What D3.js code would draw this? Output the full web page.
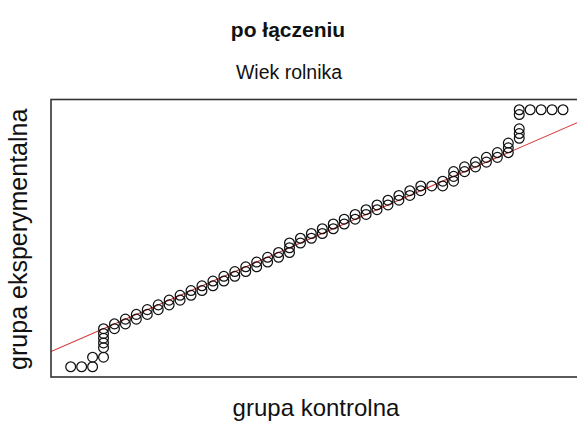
<!DOCTYPE html>
<html>
<head>
<meta charset="utf-8">
<script src="https://cdn.jsdelivr.net/npm/d3@7"></script>
<style>
  html, body { margin: 0; padding: 0; background: #fff; }
  svg { display: block; }
  text { font-family: "Liberation Sans", Arial, sans-serif; fill: #111; }
</style>
</head>
<body>
<svg id="chart" width="577" height="427"></svg>
<script>
// Sorted ages (quantiles) of both groups, paired by rank
const controlAges = [
  25, 26, 27, 27, 28, 28, 28, 28, 28, 28,
  29, 29, 30, 30, 31, 31, 32, 32, 33, 33, 34, 34, 35, 35, 36, 36,
  37, 37, 38, 38, 39, 39, 40, 40, 41, 41, 42, 42, 43, 43, 44, 44,
  45, 45, 45,
  46, 46, 47, 47, 48, 48, 49, 49, 50, 50, 51, 51, 52, 52, 53, 53,
  54, 54, 55, 55, 56, 56, 57, 57,
  58, 59, 59, 60, 60, 60,
  61, 61, 62, 62, 63, 63, 64, 64,
  65, 65, 65,
  66, 66, 66, 66, 66,
  67, 68, 69, 70
];
const experimentalAges = [
  20, 20, 20, 22, 22, 24, 25, 26, 27, 28,
  28, 29, 29, 30, 30, 31, 31, 32, 32, 33, 33, 34, 34, 35, 35, 36,
  36, 37, 37, 38, 38, 39, 39, 40, 40, 41, 41, 42, 42, 43, 43, 44,
  44, 45, 46,
  46, 47, 47, 48, 48, 49, 49, 50, 50, 51, 51, 52, 52, 53, 53, 54,
  54, 55, 55, 56, 56, 57, 57, 58,
  58, 58, 59, 59, 60, 61,
  61, 62, 62, 63, 63, 64, 64, 65,
  65, 66, 67,
  68, 69, 70, 73, 74,
  74, 74, 74, 74
];
// Reference line y = a + b·x
const refLine = { intercept: 0, slope: 1 };

const titleText = "po łączeniu";
const subtitleText = "Wiek rolnika";
const xLabel = "grupa kontrolna";
const yLabel = "grupa eksperymentalna";

const svg = d3.select("#chart");
const plot = { left: 51, top: 99.5, right: 582.7, bottom: 377 };

// Axis ranges padded by 4% on each side
function padded(vals) {
  const [lo, hi] = d3.extent(vals);
  const pad = (hi - lo) * 0.04;
  return [lo - pad, hi + pad];
}
const x = d3.scaleLinear().domain(padded(controlAges)).range([plot.left, plot.right]);
const y = d3.scaleLinear().domain(padded(experimentalAges)).range([plot.bottom, plot.top]);

svg.append("clipPath").attr("id", "clip")
  .append("rect")
  .attr("x", plot.left).attr("y", plot.top)
  .attr("width", plot.right - plot.left).attr("height", plot.bottom - plot.top);

const pts = controlAges.map((v, i) => ({ cx: v, cy: experimentalAges[i] }));

// Reference line across the plotting region
const [dx0, dx1] = x.domain();
svg.append("line")
  .attr("clip-path", "url(#clip)")
  .attr("x1", x(dx0)).attr("y1", y(refLine.intercept + refLine.slope * dx0))
  .attr("x2", x(dx1)).attr("y2", y(refLine.intercept + refLine.slope * dx1))
  .attr("stroke", "#d43535").attr("stroke-width", 1.1);

// Open circle markers
svg.append("g").attr("clip-path", "url(#clip)")
  .selectAll("circle").data(pts).join("circle")
  .attr("cx", d => x(d.cx)).attr("cy", d => y(d.cy))
  .attr("r", 4.9)
  .attr("fill", "none").attr("stroke", "#111").attr("stroke-width", 1.25);

// Frame
svg.append("rect")
  .attr("x", plot.left).attr("y", plot.top)
  .attr("width", plot.right - plot.left).attr("height", plot.bottom - plot.top)
  .attr("fill", "none").attr("stroke", "#333").attr("stroke-width", 1.6);

// Titles and axis labels
svg.append("text").attr("x", 288).attr("y", 37)
  .attr("text-anchor", "middle").attr("font-size", 21).attr("font-weight", "bold")
  .text(titleText);
svg.append("text").attr("x", 289).attr("y", 79)
  .attr("text-anchor", "middle").attr("font-size", 19.5)
  .text(subtitleText);
svg.append("text").attr("x", 316).attr("y", 416)
  .attr("text-anchor", "middle").attr("font-size", 24)
  .text(xLabel);
svg.append("text")
  .attr("transform", `translate(27, ${(plot.top + plot.bottom) / 2 + 1}) rotate(-90)`)
  .attr("text-anchor", "middle").attr("font-size", 25)
  .text(yLabel);
</script>
</body>
</html>
